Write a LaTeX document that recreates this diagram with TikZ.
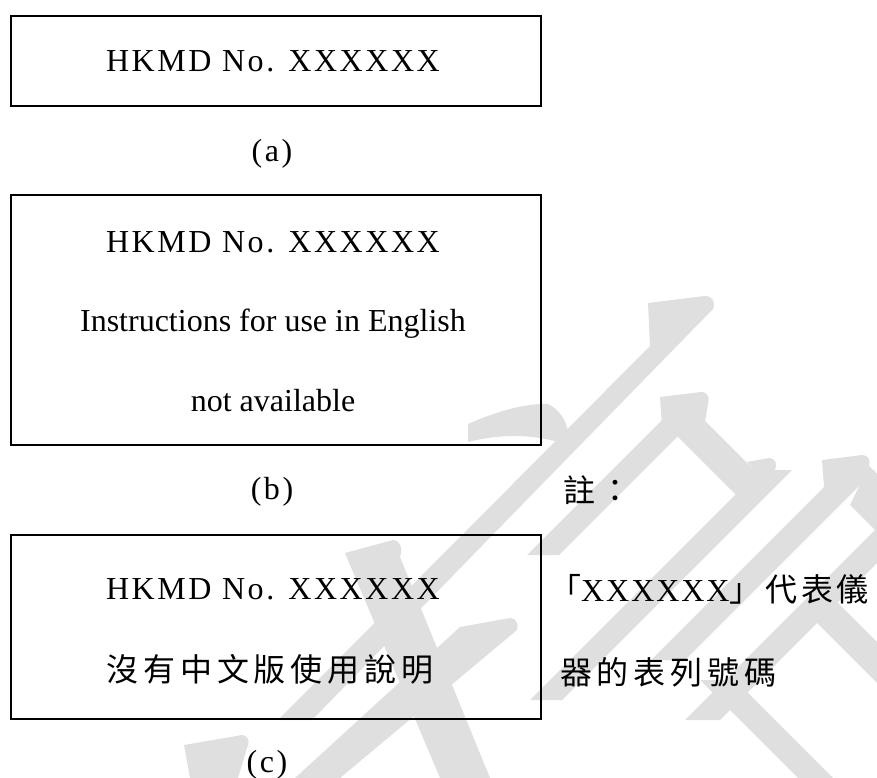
\documentclass[tikz,border=0pt]{standalone}
\usepackage{fontspec}
\setmainfont{Liberation Serif}
\newfontfamily\spacedfont[LetterSpace=8]{Liberation Serif}
\newfontfamily\notexfont[LetterSpace=6]{Liberation Serif}
\newfontfamily\cjkfont[LetterSpace=15]{Noto Sans CJK TC}
\newfontfamily\cjknote[LetterSpace=12]{Noto Sans CJK TC}
\definecolor{wm}{RGB}{223,223,223}
\begin{document}
\begin{tikzpicture}[x=1pt,y=-1pt,
  box/.style={draw=black,line width=1.8pt,inner sep=0pt,anchor=north west},
  txt/.style={anchor=base,inner sep=0pt,font=\fontsize{32}{38}\selectfont},
  ntxt/.style={anchor=base west,inner sep=0pt,font=\fontsize{32}{38}\selectfont}]
\useasboundingbox (0,0) rectangle (877,778);
% ---------- watermark ----------
\begin{scope}[fill=wm]
% long diagonal with top cap
\fill (648,303) -- (705,296) .. controls (712,296) and (716,302) .. (713,309) -- (312,720) -- (278,720) -- (650,346) -- cycle;
% hook blob at box (b)
\fill (468,424) .. controls (495,412) and (525,403) .. (548,404) .. controls (560,410) and (566,420) .. (568,432) -- (558,442) .. controls (530,434) and (500,434) .. (468,442) -- cycle;
% second "^" shape
\fill (660,397) -- (701,392) .. controls (708,392) and (710,398) .. (708,404) -- (705,422) -- (662,426) -- cycle;
\fill (672,410) -- (704,410) -- (559,555) -- (527,555) -- cycle;
\fill (692,408) -- (764.5,480.5) -- (743,502) -- (670.5,429.5) -- cycle;
\fill (747,462) -- (769,458) .. controls (775,458) and (778,464) .. (775,470) -- (764,481) -- cycle;
% band down from it
\fill (760,470) -- (792,470) -- (562,700) -- (530,700) -- cycle;
% third "^" shape
\fill (822,460) -- (862,455) .. controls (868,455) and (871,460) .. (869,466) -- (862,480) -- (824,487) -- cycle;
\fill (841,470) -- (875,470) -- (685,660) -- (651,660) -- cycle;
\fill (869,466) -- (900,497) -- (900,555) -- (850,505) -- cycle;
% right diamond
\fill (877,528) -- (912,528) -- (720,720) -- (685,720) -- cycle;
\fill (810,616) -- (900,706) -- (900,665) -- (830.5,595.5) -- cycle;
\fill (700,680) -- (735,680) -- (835,780) -- (800,780) -- cycle;
% lower-left strokes
\fill (345,553) -- (393,540) .. controls (400,540) and (403,548) .. (400,557) -- (490,778) -- (440,778) -- cycle;
\fill (460,627) -- (510,618) .. controls (516,618) and (519,624) .. (517,630) -- (340,778) -- (295,778) -- cycle;
\fill (184,745) -- (242,735) .. controls (247,735) and (250,740) .. (248,745) -- (238,778) -- (190,778) -- cycle;
\end{scope}
% ---------- boxes ----------
\node[box,minimum width=530pt,minimum height=90pt] (boxa) at (10,15) {};
\node[box,minimum width=530pt,minimum height=250pt] (boxb) at (10,194) {};
\node[box,minimum width=530pt,minimum height=184pt] (boxc) at (10,534) {};
% ---------- texts ----------
\node[txt] (ta) at (273,72) {\spacedfont HKMD No. XXXXXX};
\node[txt] (la) at (272,162) {\spacedfont (a)};
\node[txt] (tb1) at (273,252) {\spacedfont HKMD No. XXXXXX};
\node[txt] (tb2) at (273,331) {Instructions for use in English};
\node[txt] (tb3) at (273,411) {not available};
\node[txt] (lb) at (272,499) {\spacedfont (b)};
\node[txt] (tc1) at (273,599) {\spacedfont HKMD No. XXXXXX};
\node[txt] (tc2) at (270,681) {\cjkfont 沒有中文版使用說明};
\node[txt] (lc) at (267,772) {\spacedfont (c)};
\node[ntxt] (n0) at (563,502) {\cjkfont 註：};
\node[ntxt] (n1) at (549,601) {\cjknote 「\notexfont XXXXXX\cjknote 」代表儀};
\node[ntxt] (n2) at (560,684) {\cjkfont 器的表列號碼};
\end{tikzpicture}
\end{document}
